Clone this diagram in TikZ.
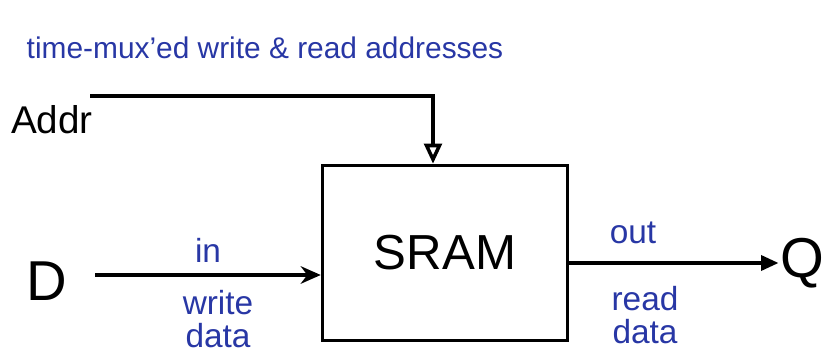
\documentclass[tikz,border=0pt]{standalone}
\usepackage{fontspec}
\setmainfont{Liberation Sans}
\usepackage{tikz}
\usetikzlibrary{arrows.meta,positioning}
\definecolor{pen}{RGB}{40,55,165}

\begin{document}
\begin{tikzpicture}[
  blk/.style={draw, line width=2pt, minimum width=4.9cm, minimum height=3.5cm, font=\fontsize{28}{30}\selectfont},
  sig/.style={font=\fontsize{32}{34}\selectfont, inner sep=1pt},
  note/.style={text=pen, font=\fontsize{19}{19}\selectfont, inner sep=1pt, align=center},
  wire/.style={line width=2pt},
  arr/.style={-{Stealth[length=4mm, width=3.5mm]}, line width=2pt}]
  \useasboundingbox (0,0) rectangle (16.58,7.22);
  \node[blk] (sram) at (8.9,2.16) {SRAM};
  \node[note, font=\fontsize{17}{17}\selectfont] (title) at (5.3,6.26) {time-mux'ed write \& read addresses};
  \node[sig, font=\fontsize{22}{24}\selectfont] (addr) at (1.04,4.82) {Addr};
  \node[sig] (d) at (0.94,1.6) {D};
  \node[sig] (q) at (16.05,1.96) {Q};
  \coordinate (ain) at (1.8,5.3);
  \coordinate (din) at (1.9,1.72);
  \node[note] (in) at (4.16,2.22) {in};
  \node[note] (wdata) at (4.36,0.84) {write\\data};
  \node[note] (out) at (12.66,2.56) {out};
  \node[note] (rdata) at (12.9,0.92) {read\\data};
  \draw[wire, -{Triangle[open, length=4mm, width=3.5mm]}] (ain) -| ([xshift=-0.24cm]sram.north);
  \draw[arr] (din) -- (sram.west |- din);
  \draw[wire, -{Triangle[length=3.5mm, width=3mm]}] (sram.east |- q) -- (q.west);
\end{tikzpicture}
\end{document}
